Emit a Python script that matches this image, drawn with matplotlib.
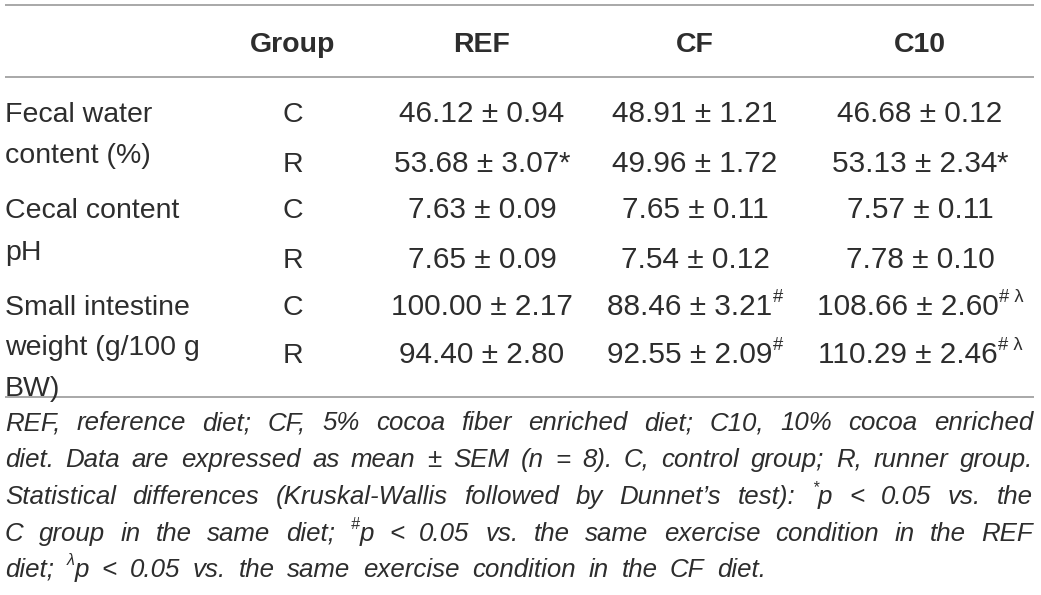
import matplotlib
matplotlib.use("Agg")
import matplotlib.pyplot as plt

# table content
columns = ["Group", "REF", "CF", "C10"]
row_labels = [
    ["Fecal water", "content (%)"],
    ["Cecal content", "pH"],
    ["Small intestine", "weight (g/100 g", "BW)"],
]
groups = ["C", "R"]
# value strings and superscript marks per variable -> group -> diet
values = [
    [["46.12 ± 0.94", "48.91 ± 1.21", "46.68 ± 0.12"],
     ["53.68 ± 3.07", "49.96 ± 1.72", "53.13 ± 2.34"]],
    [["7.63 ± 0.09", "7.65 ± 0.11", "7.57 ± 0.11"],
     ["7.65 ± 0.09", "7.54 ± 0.12", "7.78 ± 0.10"]],
    [["100.00 ± 2.17", "88.46 ± 3.21", "108.66 ± 2.60"],
     ["94.40 ± 2.80", "92.55 ± 2.09", "110.29 ± 2.46"]],
]
marks = [
    [["", "", ""], ["*", "", "*"]],
    [["", "", ""], ["", "", ""]],
    [["", "#", "# λ"], ["", "#", "# λ"]],
]
# footnote lines, "^x" marks a superscript character in front of a word
footnote = [
    "REF, reference diet; CF, 5% cocoa fiber enriched diet; C10, 10% cocoa enriched",
    "diet. Data are expressed as mean ± SEM (n = 8). C, control group; R, runner group.",
    "Statistical differences (Kruskal-Wallis followed by Dunnet’s test): ^*p < 0.05 vs. the",
    "C group in the same diet; ^#p < 0.05 vs. the same exercise condition in the REF",
    "diet; ^λp < 0.05 vs. the same exercise condition in the CF diet.",
]

FONT = ["Liberation Sans", "DejaVu Sans"]
TXT = "#2d2d2d"
LINE = "#a8a8a8"
FS = 20.5
FS_VAL = 21.4
FS_NOTE = 18.6

fig = plt.figure(figsize=(10.41, 5.95), dpi=100)
ax = fig.add_axes([0, 0, 1, 1])
ax.set_xlim(0, 1041)
ax.set_ylim(595, 0)
ax.axis("off")
renderer = fig.canvas.get_renderer()


def width_of(t):
    return t.get_window_extent(renderer).width


def rich(x, y, parts, size, style="normal", ha="center", weight="normal"):
    """draw text pieces at baseline y, superscripts raised and smaller"""
    objs = []
    for s, sup in parts:
        if not s:
            continue
        fs = size * 0.62 if sup else size
        t = ax.text(0, y - (size * 0.62 if sup else 0), s, fontsize=fs, family=FONT,
                    fontstyle=style, fontweight=weight, color=TXT, va="baseline", ha="left")
        objs.append(t)
    ws = [width_of(t) for t in objs]
    total = sum(ws)
    x0 = x - total / 2 if ha == "center" else x
    for t, w in zip(objs, ws):
        t.set_x(x0)
        x0 += w
    return total, objs


def split_token(tok):
    if tok.startswith("^"):
        return [(tok[1], True), (tok[2:], False)]
    return [(tok, False)]


# rules
for yy in [5, 77, 397]:
    ax.plot([5, 1034], [yy, yy], color=LINE, lw=1.4, solid_capstyle="butt")

col_x = [293, 482, 695, 920]
for cx, name in zip(col_x, columns):
    rich(cx, 52, [(name, False)], FS, weight="bold")

label_y = [[112, 153], [208, 250], [305, 345, 386]]
group_y = [[112, 162], [208, 258], [305, 353]]
for i, labs in enumerate(row_labels):
    for lab, ly in zip(labs, label_y[i]):
        rich(5, ly + 10, [(lab, False)], FS, ha="left")
    for g, gname in enumerate(groups):
        gy = group_y[i][g] + 10
        rich(col_x[0], gy, [(gname, False)], FS)
        for d in range(3):
            m = marks[i][g][d]
            if m == "*":
                parts = [(values[i][g][d], False), ("*", False)]
            else:
                parts = [(values[i][g][d], False), (m, True)]
            rich(col_x[d + 1], gy, parts, FS_VAL)

# width of one space in the footnote font
t1 = ax.text(0, 300, "a a", fontsize=FS_NOTE, family=FONT, fontstyle="italic")
t2 = ax.text(0, 300, "aa", fontsize=FS_NOTE, family=FONT, fontstyle="italic")
space = width_of(t1) - width_of(t2)
t1.remove()
t2.remove()

# justified footnote
note_y = [422, 459, 496, 533, 569]
left, right = 5, 1033
for k, line in enumerate(footnote):
    toks = line.split(" ")
    size = FS_NOTE
    for attempt in range(3):
        items = [rich(0, note_y[k] + 8, split_token(tok), size, style="italic", ha="left")
                 for tok in toks]
        ws = [w for w, _ in items]
        natural = sum(ws) + space * (size / FS_NOTE) * (len(toks) - 1)
        if natural <= right - left or attempt == 2:
            break
        for _, objs in items:
            for t in objs:
                t.remove()
        size *= (right - left) / natural * 0.995
    if k < len(footnote) - 1:
        gap = (right - left - sum(ws)) / (len(toks) - 1)
    else:
        gap = space * 1.75
    x0 = left
    for w, objs in items:
        for t in objs:
            t.set_x(t.get_position()[0] + x0)
        x0 += w + gap

fig.savefig("out.png", dpi=100)
